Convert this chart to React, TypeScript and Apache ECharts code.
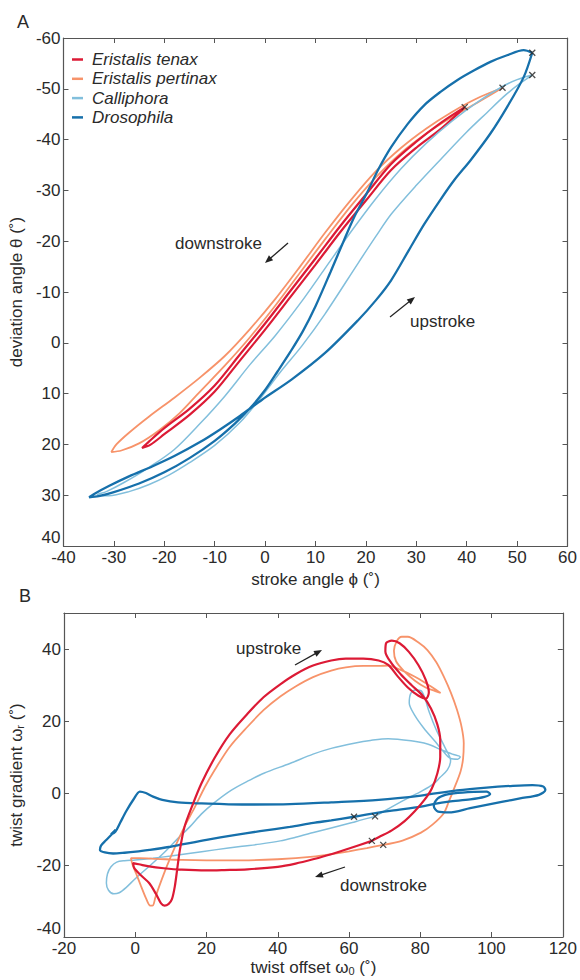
import React, { useEffect, useRef } from 'react';
import * as echarts from 'echarts';

type P = [number, number];

const speciesNames = ['Eristalis tenax', 'Eristalis pertinax', 'Calliphora', 'Drosophila'];
const speciesColors = ['#dc1a35', '#f7936a', '#82bfdc', '#1670ab'];
const speciesWidths = [2.2, 1.8, 1.5, 2.3];

// Panel A: stroke angle phi (x) vs deviation angle theta (y)
const tenaxA: P[] = [
  [39.6, -46.4], [35, -43.4], [30, -39.6], [25, -35.2], [20, -29.2], [15, -23.1], [10, -16.6], [5, -10.2],
  [0, -3.8], [-5, 2.3], [-10, 8.4], [-15, 13], [-20, 16.8], [-23, 19.4], [-24.4, 20.7],
  [-22.8, 20.1], [-20, 18], [-15, 14.2], [-10, 9.6], [-5, 3.5], [0, -2.6], [5, -9], [10, -15.4],
  [15, -21.9], [20, -28], [25, -34], [30, -38.4], [35, -42.2], [39.6, -46.4],
];
const pertinaxA: P[] = [
  [47.1, -50.2], [42, -48.1], [37, -45.4], [32, -42.2], [27, -38.4], [22, -33.8], [17, -28.1], [12, -21.8],
  [7, -15.1], [2, -8.6], [-3, -2.7], [-8, 2.6], [-13, 6.9], [-18, 10.8], [-23, 14.5], [-27, 17.7],
  [-29.5, 20], [-30.5, 21.5], [-28.5, 21.2], [-25, 19.8], [-21, 17.2], [-17, 13.9], [-13, 9.7], [-8, 4.5],
  [-3, -1.1], [2, -7.3], [7, -13.9], [12, -20.5], [17, -26.9], [22, -32.6], [27, -37.4], [32, -41.2],
  [37, -44.4], [42, -47.2], [47.1, -50.2],
];
const calliphoraA: P[] = [
  [53, -52.7], [50, -51.8], [47, -50.4], [42, -47.3], [37, -43.6], [32, -39.3], [27, -34.3], [22, -28.4],
  [17, -21.8], [12, -14.8], [7, -7.8], [2, -1.4], [-3, 4.3], [-8, 10.5], [-13, 16], [-18, 21],
  [-23, 24.5], [-28, 27.5], [-31.5, 29.3], [-33.3, 29.9], [-31, 30.1], [-27, 29.3], [-23, 27.9],
  [-19, 26], [-15, 23.6], [-10, 20.2], [-5, 15.7], [-1, 11], [3, 5.8], [7.3, 0.6], [11.9, -5.7],
  [18.4, -15.6], [22, -21], [25, -25.3], [30, -31], [35, -36.3], [40, -41.5], [44, -45.3],
  [47.5, -48.6], [50.5, -51], [53, -52.7],
];
const drosophilaA: P[] = [
  [53, -57.1], [51.3, -57.6], [48, -56.6], [44.7, -55.3], [41.4, -53.6], [38.1, -51.7], [34.8, -49.4],
  [31.6, -46.8], [28.3, -43.1], [25, -38.5], [22.4, -34], [20.2, -29.5], [17.8, -25], [15.7, -20.3],
  [13, -14], [10, -7.2], [7.5, -2.3], [5, 1.8], [2.5, 5.6], [0, 9.3], [-3, 12.9], [-6, 15.9],
  [-10, 19.3], [-15, 22.7], [-20, 25.5], [-25, 27.7], [-30, 29.4], [-33, 30.2], [-34.9, 30.4],
  [-34, 29.8], [-31, 28.2], [-27, 26.3], [-22.3, 24.3], [-18, 22.3], [-13, 19.6], [-9, 17.1],
  [-5, 14.4], [-0.6, 11.2], [5.3, 7.2], [11.9, 2], [18.4, -4.4], [22, -8.4], [25, -12.3],
  [28.5, -18.2], [31.6, -23.4], [34.8, -28.2], [37.5, -32], [40.8, -36], [44.7, -41.2],
  [48, -46.4], [51.3, -52.3], [53, -57.1],
];
const startMarkersA: P[] = [[53, -57.1], [53, -52.7], [47.1, -50.2], [39.6, -46.4]];

// Panel B: twist offset (x) vs twist gradient (y)
const tenaxB: P[] = [
  [66.4, -13.3], [60, -15.4], [55, -17], [49.9, -18.4], [45, -19.6], [40, -20.5], [31.5, -21.2],
  [25, -21.4], [20, -21.5], [13.1, -21.3], [8, -20.9], [3.9, -20.4], [1, -19.8], [-0.6, -19.5],
  [-0.3, -20.8], [1.5, -22.8], [3.9, -25], [5.8, -28], [7.2, -30.6], [8.2, -31.3], [9.4, -30.8],
  [10.3, -29.5], [11.1, -26], [11.8, -21], [12.5, -16], [13.8, -9.5], [15.9, -3.8], [18.5, 2.5],
  [22.3, 9.8], [26.5, 16.3], [31.5, 22], [36, 26.6], [40.7, 30.2], [45, 33], [49.9, 35.4],
  [55, 36.8], [59.1, 37.3], [64, 37.3], [68.3, 36.8], [71, 35.6], [73.5, 32.6], [76.5, 29.3],
  [79.5, 27], [81.6, 26.2], [82.4, 28], [81.5, 31.5], [79.5, 35.5], [76.8, 39.2], [74.2, 41.6],
  [72, 42.3], [70.4, 41.6], [70.2, 39.3], [71.8, 36.2], [74.5, 33], [77.5, 30], [80.5, 27.2],
  [83, 23.5], [84.8, 19], [85.6, 14.7], [85.6, 10], [84.8, 5.5], [83.2, 1.2], [81.1, -2],
  [78.5, -5], [75.6, -7.8], [72, -10.4], [68.3, -12.3], [66.4, -13.3],
];
const pertinaxB: P[] = [
  [69.6, -14.4], [65, -15.3], [60, -16.2], [55, -17], [49.9, -17.7], [40, -18.4], [30, -18.7],
  [20, -18.7], [13.1, -18.6], [6, -18.3], [1, -18.1], [-1.2, -18.1], [-0.8, -19.8], [0.3, -22.5],
  [1.6, -25.8], [3, -29.2], [4.2, -31.3], [5, -31.2], [5.6, -29.2], [6.7, -26], [8.8, -20.5],
  [11.2, -14.9], [14, -9], [16.8, -3.8], [19.5, 1.6], [22.3, 6.4], [26.5, 12.8], [31.5, 18.4],
  [36, 23], [40.7, 26.8], [45, 29.6], [49.9, 32.2], [55, 34], [59.1, 34.9], [64, 35.3],
  [68.3, 35.3], [71, 35.4], [74.5, 34.2], [78.5, 32.3], [82, 30.2], [84.5, 28.6], [85.7, 27.8],
  [84.2, 28.3], [81.5, 29.3], [78.5, 31.2], [75.5, 33.8], [73.2, 36.6], [72.6, 39.5], [73.4, 42.2],
  [74.8, 43.4], [76.5, 43.4], [79.5, 41.8], [82, 39.7], [84.5, 36.3], [86.6, 32.3], [88.6, 27.8],
  [90.3, 23.1], [91.6, 18.3], [92.2, 13.8], [92, 9.5], [91.3, 6], [89.4, 1], [88, -2.4],
  [86.6, -5.6], [83.5, -8.7], [80.2, -11], [75, -13.2], [69.6, -14.4],
];
const calliphoraB: P[] = [
  [67.3, -6.5], [63, -7.6], [60.9, -8.2], [55, -9.7], [50, -11], [45, -12.3], [40.7, -13.3],
  [35, -14.2], [30, -14.8], [22.3, -15.8], [15, -16.8], [10, -17.5], [5, -18.1], [0, -18.6],
  [-3, -18.8], [-5.2, -19.2], [-6.8, -20.5], [-7.8, -22.5], [-8.1, -25], [-7.5, -27], [-6, -28],
  [-4.5, -27.7], [-2.5, -26.2], [0, -23.8], [4.8, -19.6], [8.5, -16.2], [12, -12.6], [15.5, -9.2],
  [18.6, -5.8], [22.3, -2.6], [27, 0.8], [32, 3.5], [36.1, 5.5], [43.4, 8.2], [49.9, 10.8],
  [55, 12.4], [61.8, 13.9], [66, 14.6], [71, 15.1], [77.4, 14.5], [82, 13.6], [85.7, 12.1],
  [89, 10.8], [91.2, 10], [90.5, 9.4], [88.5, 9.6], [86.5, 11.5], [84, 14.5], [81, 18],
  [78.5, 21.5], [76.9, 25], [77.3, 27.6], [78.6, 28.6], [80.2, 28.4], [81.3, 26.3], [82.5, 22.5],
  [84.5, 17.5], [87, 12.5], [88.5, 9], [87.6, 6.4], [85.5, 4.3], [83.9, 2.7], [80.5, 0.6],
  [75.6, -1.9], [71, -4.4], [67.3, -6.5],
];
const drosophilaB: P[] = [
  [61.4, -6.6], [55, -7.6], [50, -8.3], [43.4, -9.4], [35, -10.6], [27.8, -11.7], [20, -13],
  [13.1, -14.3], [9.4, -15], [4, -15.8], [0.2, -16.3], [-3, -16.6], [-6.2, -16.8], [-8.5, -16.5],
  [-9.9, -15.8], [-9.6, -14.6], [-8.3, -13.2], [-6.5, -11.4], [-5.5, -10.2], [-6.8, -11.5],
  [-5.6, -10.8], [-4.2, -8.2], [-2.5, -5], [-0.5, -1.8], [1.3, 0.4], [3, 0], [5, -1], [7.6, -1.9],
  [12, -2.6], [18.6, -2.9], [30, -3.2], [43.4, -3.1], [55, -2.6], [68.3, -1.9], [80.2, -0.7],
  [90.3, 0.7], [98.6, 1.5], [106, 2], [111.5, 2.2], [114.5, 1.8], [115.1, 0.8], [113.3, -0.5],
  [108, -1.5], [103.2, -2.4], [94, -4.2], [88, -5.4], [85, -5.2], [83.8, -3.6], [84.8, -1.6],
  [87, -0.5], [89.4, -0.1], [95, 0.3], [98.6, 0.4], [99.6, -0.3], [98, -1.1], [94, -1.8],
  [88, -2.4], [84, -3], [80.2, -3.8], [72, -4.9], [67.4, -5.6], [61.4, -6.6],
];
const startMarkersB: P[] = [[61.4, -6.6], [67.3, -6.5], [66.4, -13.3], [69.6, -14.4]];

const FONT = '"Liberation Sans", Arial, sans-serif';
const TXT = '#2a2a2a';
const AXC = '#555';
const FS = 17;

function arrow(x1: number, y1: number, x2: number, y2: number) {
  const dx = x2 - x1, dy = y2 - y1;
  const len = Math.hypot(dx, dy);
  const ux = dx / len, uy = dy / len;
  const hl = 8, hw = 3.2;
  const bx = x2 - ux * hl, by = y2 - uy * hl;
  return [
    { type: 'line', shape: { x1, y1, x2: bx + ux * 2, y2: by + uy * 2 }, style: { stroke: '#222', lineWidth: 1.3 } },
    {
      type: 'polygon',
      shape: { points: [[x2, y2], [bx - uy * hw, by + ux * hw], [bx + uy * hw, by - ux * hw]] },
      style: { fill: '#222' },
    },
  ];
}

function label(text: string, x: number, y: number) {
  return {
    type: 'text', x, y,
    style: { text, fontSize: FS, fontFamily: FONT, fill: TXT, align: 'left', verticalAlign: 'middle' },
  };
}

function axisCommon(extra: any) {
  return {
    splitLine: { show: false },
    axisLine: { show: true, onZero: false, lineStyle: { color: AXC, width: 1.2 } },
    axisTick: { show: true, inside: true, length: 5, lineStyle: { color: AXC, width: 1 } },
    axisLabel: { show: true, fontSize: FS, fontFamily: FONT, color: TXT, margin: 3 },
    nameTextStyle: { fontSize: FS, fontFamily: FONT, color: TXT },
    ...extra,
  };
}

function mirror(extra: any) {
  return axisCommon({ ...extra, axisLabel: { show: false } });
}

const subRich = { s: { fontSize: 11, fontFamily: FONT, color: TXT, verticalAlign: 'bottom', padding: [7, 0, 0, 0] } };

function buildOption() {
  const ordA = [1, 0, 2, 3];
  const ordB = [2, 1, 3, 0];
  const dataA = [tenaxA, pertinaxA, calliphoraA, drosophilaA];
  const dataB = [tenaxB, pertinaxB, calliphoraB, drosophilaB];
  const series: any[] = [];
  ordA.forEach((i) => {
    series.push({
      type: 'line', name: speciesNames[i], data: dataA[i], xAxisIndex: 0, yAxisIndex: 0,
      showSymbol: false, smooth: 0.3, color: speciesColors[i],
      lineStyle: { color: speciesColors[i], width: speciesWidths[i] }, z: 3,
    });
  });
  ordB.forEach((i) => {
    series.push({
      type: 'line', name: speciesNames[i], data: dataB[i], xAxisIndex: 2, yAxisIndex: 2,
      showSymbol: false, smooth: 0.3, color: speciesColors[i],
      lineStyle: { color: speciesColors[i], width: speciesWidths[i] }, z: 3,
    });
  });
  const xSym = 'path://M0 0L10 10M10 0L0 10';
  series.push({
    type: 'scatter', name: 'startA', data: startMarkersA, xAxisIndex: 0, yAxisIndex: 0,
    symbol: xSym, symbolSize: 6, itemStyle: { color: 'rgba(0,0,0,0)', borderColor: '#222', borderWidth: 1.3 }, z: 5,
  });
  series.push({
    type: 'scatter', name: 'startB', data: startMarkersB, xAxisIndex: 2, yAxisIndex: 2,
    symbol: xSym, symbolSize: 6, itemStyle: { color: 'rgba(0,0,0,0)', borderColor: '#222', borderWidth: 1.3 }, z: 5,
  });

  return {
    animation: false,
    backgroundColor: '#fff',
    grid: [
      { left: 60, top: 38, width: 508, height: 508 },
      { left: 60, top: 613, width: 508, height: 324 },
    ],
    legend: {
      data: speciesNames, orient: 'vertical', left: 72, top: 51, padding: 0, icon: 'rect',
      itemWidth: 11, itemHeight: 2.5, itemGap: 2.3,
      textStyle: { fontSize: FS, fontStyle: 'italic', fontFamily: FONT, color: TXT, padding: [0, 0, 0, 4] },
    },
    xAxis: [
      axisCommon({ gridIndex: 0, type: 'value', position: 'bottom', min: -40, max: 60, interval: 10,
        name: 'stroke angle ϕ (˚)', nameLocation: 'middle', nameGap: 21 }),
      mirror({ gridIndex: 0, type: 'value', position: 'top', min: -40, max: 60, interval: 10 }),
      axisCommon({ gridIndex: 1, type: 'value', position: 'bottom', min: -20, max: 120, interval: 20,
        name: 'twist offset ω{s|0} (˚)', nameLocation: 'middle', nameGap: 21,
        nameTextStyle: { fontSize: FS, fontFamily: FONT, color: TXT, rich: subRich } }),
      mirror({ gridIndex: 1, type: 'value', position: 'top', min: -20, max: 120, interval: 20 }),
    ],
    yAxis: [
      axisCommon({ gridIndex: 0, type: 'value', position: 'left', min: -60, max: 40, interval: 10, inverse: true,
        axisLabel: { show: true, fontSize: FS, fontFamily: FONT, color: TXT, margin: 3,
          verticalAlignMaxLabel: 'bottom' },
        name: 'deviation angle θ (˚)', nameLocation: 'middle', nameGap: 33 }),
      mirror({ gridIndex: 0, type: 'value', position: 'right', min: -60, max: 40, interval: 10, inverse: true }),
      axisCommon({ gridIndex: 1, type: 'value', position: 'left', min: -40, max: 50, interval: 20,
        axisLabel: { show: true, fontSize: FS, fontFamily: FONT, color: TXT, margin: 3,
          verticalAlignMinLabel: 'bottom',
          formatter: (v: number) => (v === 50 ? '' : String(v)) },
        name: 'twist gradient ω{s|r} (˚)', nameLocation: 'middle', nameGap: 33,
        nameTextStyle: { fontSize: FS, fontFamily: FONT, color: TXT, rich: subRich } }),
      mirror({ gridIndex: 1, type: 'value', position: 'right', min: -40, max: 50, interval: 20 }),
    ],
    graphic: [
      { type: 'text', x: 17, y: 13, style: { text: 'A', fontSize: 18, fontFamily: FONT, fill: TXT } },
      { type: 'text', x: 19, y: 587, style: { text: 'B', fontSize: 18, fontFamily: FONT, fill: TXT } },
      label('downstroke', 175, 243),
      ...arrow(288, 243, 265, 263),
      label('upstroke', 410, 321),
      ...arrow(390, 317, 415, 297),
      label('upstroke', 236, 648),
      ...arrow(295, 665, 322, 650),
      label('downstroke', 340, 885),
      ...arrow(345, 867, 315, 877),
    ],
    series,
  };
}

export default function App() {
  const ref = useRef<HTMLDivElement>(null);
  useEffect(() => {
    const chart = echarts.init(ref.current!, null, { renderer: 'svg' });
    chart.setOption(buildOption() as any);
    return () => chart.dispose();
  }, []);
  return (
    <div
      ref={ref}
      style={{ position: 'absolute', left: 0, top: 0, width: 580, height: 980, background: '#fff' }}
    />
  );
}
